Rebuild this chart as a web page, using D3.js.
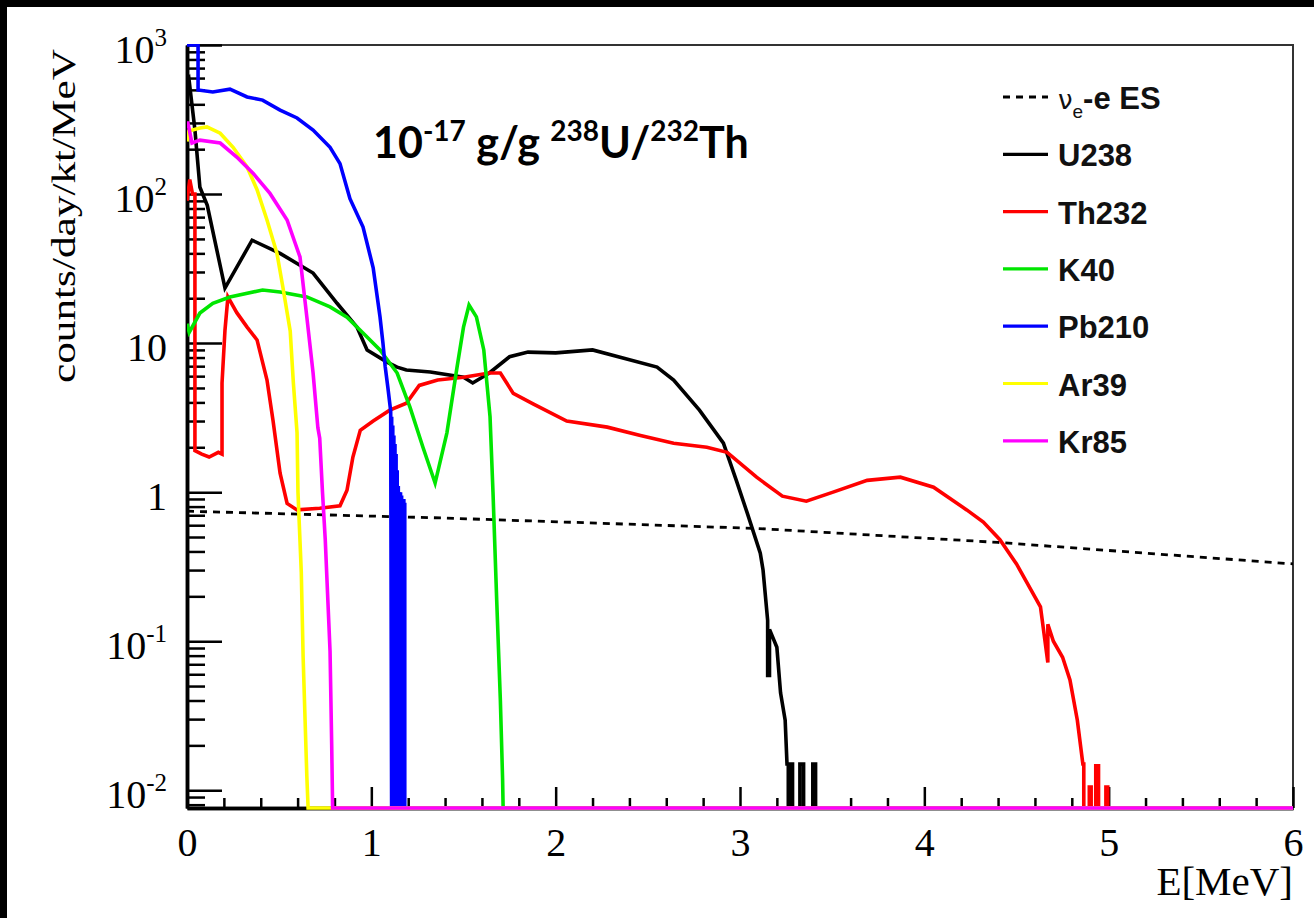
<!DOCTYPE html>
<html>
<head>
<meta charset="utf-8">
<script src="https://cdn.jsdelivr.net/npm/d3@7"></script>
<style>
  html, body { margin: 0; padding: 0; background: #fff; }
  #plot { width: 1314px; height: 918px; }
</style>
</head>
<body>
<div id="plot"></div>
<script>

// energy axis (MeV) and count axis ticks
var energyTicks = [0, 1, 2, 3, 4, 5, 6];
var energyMinor = [0.2, 0.4, 0.6, 0.8, 1.2, 1.4, 1.6, 1.8, 2.2, 2.4, 2.6, 2.8,
                   3.2, 3.4, 3.6, 3.8, 4.2, 4.4, 4.6, 4.8, 5.2, 5.4, 5.6, 5.8];
var countTicks = [1000, 100, 10, 1, 0.1, 0.01];
var countTickBase = ["10", "10", "10", "1", "10", "10"];
var countTickExp = ["3", "2", "", "", "-1", "-2"];

// spectra, [E (MeV), counts/day/kt/MeV]; 0 = empty bin
var esNue = [[0, 0.745], [1.4, 0.67], [3.1, 0.57], [4.4, 0.46], [6, 0.33]];

var u238 = [[0, 580], [0.01, 600], [0.043, 269], [0.07, 111], [0.11, 84], [0.206, 23.4],
  [0.353, 49], [0.505, 40], [0.684, 29.5], [0.814, 18.5], [0.922, 12.8], [0.977, 9.0],
  [1.085, 7.45], [1.14, 6.9], [1.19, 6.6], [1.32, 6.4], [1.50, 5.9], [1.55, 5.4],
  [1.64, 6.3], [1.75, 8.1], [1.85, 8.7], [2.0, 8.6], [2.2, 9.0], [2.37, 7.9],
  [2.55, 6.9], [2.64, 5.65], [2.78, 3.55], [2.91, 2.13], [2.98, 1.2], [3.04, 0.72],
  [3.11, 0.39], [3.125, 0.30], [3.15, 0.138], [3.15, 0.059], [3.16, 0.059], [3.16, 0.12],
  [3.2, 0.091], [3.22, 0.045], [3.245, 0.0295], [3.255, 0.015], [3.262, 0.015], [3.262, 0],
  [3.268, 0], [3.268, 0.015], [3.285, 0.015], [3.285, 0], [3.325, 0], [3.325, 0.015],
  [3.345, 0.015], [3.345, 0], [3.395, 0], [3.395, 0.015], [3.41, 0.015], [3.41, 0], [6, 0]];

var th232 = [[0, 90], [0.015, 125], [0.03, 100], [0.043, 100], [0.043, 1.9], [0.08, 1.8],
  [0.12, 1.72], [0.17, 1.85], [0.19, 1.8], [0.19, 5.4], [0.206, 12.2], [0.222, 20.4],
  [0.27, 16], [0.326, 12.8], [0.38, 10.5], [0.434, 5.65], [0.467, 3.0], [0.505, 1.34],
  [0.543, 0.84], [0.597, 0.76], [0.72, 0.78], [0.83, 0.81], [0.868, 1.03], [0.90, 1.72],
  [0.94, 2.6], [1.01, 3.0], [1.10, 3.55], [1.19, 3.95], [1.26, 5.2], [1.36, 5.65],
  [1.50, 5.9], [1.64, 6.3], [1.70, 6.3], [1.77, 4.6], [1.88, 3.9], [2.06, 3.0],
  [2.28, 2.73], [2.46, 2.4], [2.64, 2.13], [2.82, 2.0], [2.93, 1.85], [3.09, 1.26],
  [3.23, 0.94], [3.36, 0.87], [3.505, 1.0], [3.69, 1.2], [3.87, 1.26], [4.05, 1.08],
  [4.23, 0.76], [4.32, 0.63], [4.41, 0.48], [4.50, 0.33], [4.63, 0.17], [4.67, 0.072],
  [4.67, 0.13], [4.70, 0.1], [4.75, 0.078], [4.79, 0.055], [4.83, 0.0295], [4.86, 0.015],
  [4.865, 0.015], [4.865, 0], [4.895, 0], [4.895, 0.0105], [4.905, 0.0105], [4.905, 0],
  [4.93, 0], [4.93, 0.0146], [4.945, 0.0146], [4.945, 0], [4.985, 0], [4.985, 0.0105],
  [4.995, 0.0105], [4.995, 0], [6, 0]];

var k40 = [[0, 13.5], [0.012, 11.8], [0.07, 15.9], [0.14, 18.5], [0.233, 20.4], [0.41, 22.7],
  [0.505, 22], [0.65, 20.4], [0.776, 17.5], [0.868, 14.9], [0.955, 11.7], [1.047, 9.0],
  [1.14, 6.3], [1.21, 3.7], [1.28, 2.0], [1.346, 1.15], [1.41, 2.5], [1.465, 6.9],
  [1.50, 12.8], [1.53, 18], [1.57, 15], [1.61, 9], [1.644, 3.2], [1.66, 1.0],
  [1.68, 0.19], [1.70, 0.04], [1.712, 0.012], [1.715, 0], [6, 0]];

var pb210 = [[0, 1000], [0.06, 1000], [0.06, 499], [0.14, 484], [0.233, 505], [0.326, 448],
  [0.41, 427], [0.505, 366], [0.597, 324], [0.684, 269], [0.776, 206], [0.83, 160],
  [0.884, 93], [0.955, 60], [1.01, 32], [1.047, 15], [1.063, 10], [1.075, 7], [1.09, 5],
  [1.105, 3.5], [1.11, 0], [6, 0]];

// Pb210 end point: dense bins alternating with empty ones
var pb210Spikes = [[1.112, 3.2], [1.118, 2.8], [1.124, 2.4], [1.130, 2.1], [1.136, 1.8],
  [1.142, 1.4], [1.148, 1.1], [1.154, 1.0], [1.160, 1.0], [1.166, 0.95], [1.172, 0.9],
  [1.178, 0.9], [1.183, 0.85]];

var ar39 = [[0, 225], [0.01, 265], [0.07, 277], [0.108, 282], [0.18, 256], [0.25, 206],
  [0.326, 152], [0.38, 107], [0.434, 67], [0.488, 40], [0.52, 23.8], [0.56, 12],
  [0.577, 5.4], [0.597, 2.5], [0.602, 1.0], [0.62, 0.29], [0.63, 0.078], [0.65, 0.0125],
  [0.657, 0], [6, 0]];

var kr85 = [[0, 300], [0.005, 300], [0.027, 220], [0.07, 230], [0.18, 220], [0.27, 177],
  [0.358, 138], [0.45, 101], [0.543, 67], [0.613, 37.8], [0.65, 15], [0.684, 6.3],
  [0.71, 2.7], [0.72, 2.3], [0.735, 1.0], [0.75, 0.48], [0.776, 0.086], [0.785, 0.02],
  [0.79, 0], [6, 0]];

var seriesNames = ["ES", "U238", "Th232", "K40", "Pb210", "Ar39", "Kr85"];
var seriesColors = ["#000000", "#000000", "#ff0000", "#00e600", "#0000ff", "#ffff00", "#ff00ff"];
var seriesData = [esNue, u238, th232, k40, pb210, ar39, kr85];


var W = 1314, H = 918;
var margin = {left: 187, right: 21, top: 45, bottom: 110};
var yMin = 0.0076;

var svg = d3.select("#plot").append("svg")
    .attr("width", W)
    .attr("height", H);

svg.append("rect").attr("width", W).attr("height", H).style("fill", "#fff");
// black border of the screenshot
svg.append("rect").attr("width", W).attr("height", 7).style("fill", "#000");
svg.append("rect").attr("width", 7).attr("height", H).style("fill", "#000");

var x = d3.scaleLinear().domain([0, 6]).range([margin.left, W - margin.right]);
var y = d3.scaleLog().domain([yMin, 1000]).range([H - margin.bottom, margin.top]);

function yv(v) { return v <= yMin ? y(yMin) : y(v); }

// frame (top/right)
svg.append("path")
    .attr("d", "M" + x(0) + "," + y(1000) + "H" + x(6) + "V" + y(yMin))
    .style("fill", "none").style("stroke", "#333").style("stroke-width", 2);

// x axis
var xg = svg.append("g").attr("transform", "translate(0," + y(yMin) + ")");
xg.call(d3.axisBottom(x).tickValues(energyMinor).tickSizeInner(-10).tickSizeOuter(0).tickFormat(""));
xg.append("g").call(d3.axisBottom(x).tickValues(energyTicks).tickSizeInner(-21).tickSizeOuter(0)
    .tickPadding(20).tickFormat(d3.format("d")));
xg.selectAll("path.domain").style("stroke", "#000").style("stroke-width", 3.5);
xg.selectAll(".tick line").style("stroke", "#000").style("stroke-width", 2.5);
xg.selectAll(".tick text")
    .style("font-family", "Liberation Serif, serif")
    .style("font-size", "40px")
    .style("fill", "#000");

// y axis
var yMinor = [];
[-3, -2, -1, 0, 1, 2].forEach(function(p) {
    for (var k = 2; k <= 9; k++) {
        var v = k * Math.pow(10, p);
        if (v >= yMin && v < 1000) yMinor.push(+v.toPrecision(3));
    }
});
var yg = svg.append("g").attr("transform", "translate(" + x(0) + ",0)");
yg.call(d3.axisLeft(y).tickValues(yMinor).tickSizeInner(-18).tickSizeOuter(0).tickFormat(""));
yg.append("g").call(d3.axisLeft(y).tickValues(countTicks).tickSizeInner(-35).tickSizeOuter(0).tickFormat(""));
yg.selectAll("path.domain").style("stroke", "#000").style("stroke-width", 3.5);
yg.selectAll(".tick line").style("stroke", "#000").style("stroke-width", 2.5);

var ylab = svg.append("g")
    .style("font-family", "Liberation Serif, serif")
    .style("fill", "#000");
countTicks.forEach(function(v, i) {
    var t = ylab.append("text")
        .attr("x", 167)
        .attr("y", y(v) + 18)
        .attr("text-anchor", "end")
        .style("font-size", "40px")
        .text(countTickBase[i]);
    if (countTickExp[i]) {
        t.append("tspan")
            .attr("dy", -17)
            .style("font-size", "25px")
            .text(countTickExp[i]);
    }
});

// axis titles
svg.append("text")
    .attr("x", W - margin.right)
    .attr("y", 895)
    .attr("text-anchor", "end")
    .style("font-family", "Liberation Serif, serif")
    .style("font-size", "41px")
    .text("E[MeV]");

svg.append("text")
    .attr("transform", "translate(75,216) rotate(-90)")
    .attr("text-anchor", "middle")
    .attr("textLength", 334)
    .attr("lengthAdjust", "spacingAndGlyphs")
    .style("font-family", "Liberation Serif, serif")
    .style("font-size", "34px")
    .text("counts/day/kt/MeV");

// curves
svg.append("clipPath").attr("id", "clip")
    .append("rect")
    .attr("x", x(0)).attr("y", y(1000) - 1)
    .attr("width", x(6) - x(0)).attr("height", y(yMin) - y(1000) + 3);

var body = svg.append("g").attr("clip-path", "url(#clip)");

var line = d3.line()
    .x(function(d) { return x(d[0]); })
    .y(function(d) { return yv(d[1]); });

seriesData.forEach(function(data, i) {
    body.append("path")
        .datum(data)
        .attr("d", line)
        .style("fill", "none")
        .style("stroke", seriesColors[i])
        .style("stroke-width", i === 0 ? 2.8 : 3.6)
        .style("stroke-dasharray", i === 0 ? "7,6" : null)
        .style("stroke-linejoin", "miter");
    if (seriesNames[i] === "Pb210") {
        body.selectAll(".pbspike")
            .data(pb210Spikes)
            .enter().append("line")
            .attr("class", "pbspike")
            .attr("x1", function(d) { return x(d[0]); })
            .attr("x2", function(d) { return x(d[0]); })
            .attr("y1", y(yMin))
            .attr("y2", function(d) { return yv(d[1]); })
            .style("stroke", seriesColors[i])
            .style("stroke-width", 3);
    }
});

// title
var title = svg.append("text")
    .attr("x", 373)
    .attr("y", 158)
    .style("font-family", "Lato, sans-serif")
    .style("font-weight", "bold")
    .style("font-size", "43px")
    .style("fill", "#000");
title.append("tspan").text("10");
title.append("tspan").attr("dy", -17).style("font-size", "28px").text("-17");
title.append("tspan").attr("dy", 17).text(" g/g ");
title.append("tspan").attr("dy", -17).style("font-size", "28px").text("238");
title.append("tspan").attr("dy", 17).text("U/");
title.append("tspan").attr("dy", -17).style("font-size", "28px").text("232");
title.append("tspan").attr("dy", 17).text("Th");

// legend
var legend = svg.append("g")
    .style("font-family", "Liberation Sans, Arial, sans-serif")
    .style("font-weight", "bold")
    .style("font-size", "31px")
    .style("fill", "#111");
seriesNames.forEach(function(name, i) {
    var ly = 97 + i * 57.3;
    legend.append("line")
        .attr("x1", 1003).attr("x2", 1048)
        .attr("y1", ly).attr("y2", ly)
        .style("stroke", seriesColors[i])
        .style("stroke-width", i === 0 ? 2.8 : 3.2)
        .style("stroke-dasharray", i === 0 ? "7,6" : null);
    var t = legend.append("text")
        .attr("x", 1058)
        .attr("y", ly + 12);
    if (i === 0) {
        t.append("tspan").style("font-weight", "normal").style("font-family", "DejaVu Sans, sans-serif")
            .style("font-size", "26px").text("ν");
        t.append("tspan").attr("dy", 9).style("font-size", "19px").style("font-weight", "normal").text("e");
        t.append("tspan").attr("dy", -9).text("-e ES");
    } else {
        t.text(name);
    }
});

</script>
</body>
</html>
